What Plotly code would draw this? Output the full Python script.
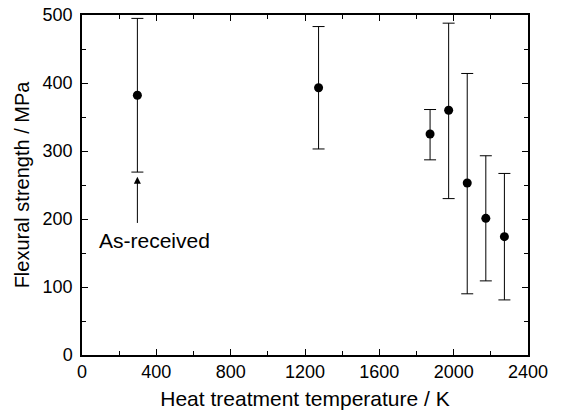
import plotly.graph_objects as go

temperature_K = [298, 1273, 1873, 1973, 2073, 2173, 2273]
strength_MPa = [382, 393, 325, 360, 253, 201, 174]
upper_MPa = [495, 483, 361, 488, 414, 293, 267]
lower_MPa = [269, 303, 287, 230, 90, 109, 81]

err_plus = [u - s for u, s in zip(upper_MPa, strength_MPa)]
err_minus = [s - l for s, l in zip(strength_MPa, lower_MPa)]

FONT = "Liberation Sans, Arial, sans-serif"

fig = go.Figure()
fig.add_trace(go.Scatter(
    x=temperature_K, y=strength_MPa, mode="markers",
    marker=dict(color="black", size=9),
    error_y=dict(type="data", symmetric=False, array=err_plus, arrayminus=err_minus,
                 color="black", thickness=1, width=6),
    showlegend=False,
))

fig.add_annotation(x=298, y=262, ax=298, ay=192, xref="x", yref="y", axref="x", ayref="y",
                   showarrow=True, arrowhead=2, arrowsize=1.4, arrowwidth=1, arrowcolor="black", text="")
fig.add_annotation(x=80, y=168, xref="x", yref="y", text="As-received", showarrow=False,
                   xanchor="left", yanchor="middle", font=dict(family=FONT, size=21, color="black"))

axis_common = dict(
    showline=True, linecolor="black", linewidth=1.5, mirror="ticks",
    ticks="inside", ticklen=6, tickwidth=1.2, tickcolor="black",
    showgrid=False, zeroline=False, automargin=False,
    tickfont=dict(family=FONT, size=18, color="black"),
)

fig.update_xaxes(range=[0, 2400], dtick=400, tick0=0,
                 minor=dict(ticks="inside", dtick=200, ticklen=4, tickcolor="black", tickwidth=1.2),
                 title=dict(text="Heat treatment temperature / K", font=dict(family=FONT, size=21, color="black"), standoff=10),
                 **axis_common)
fig.update_yaxes(range=[0, 500], dtick=100, tick0=0,
                 minor=dict(ticks="inside", dtick=50, ticklen=4, tickcolor="black", tickwidth=1.2),
                 title=dict(text="Flexural strength / MPa", font=dict(family=FONT, size=20, color="black"), standoff=8),
                 ticklabelstandoff=4,
                 **axis_common)

fig.update_layout(
    width=563, height=412,
    margin=dict(l=82, r=35, t=15, b=57),
    plot_bgcolor="white", paper_bgcolor="white",
)

fig.write_html("out.html", config={"displayModeBar": False},
               post_script="document.body.style.margin='0';")
